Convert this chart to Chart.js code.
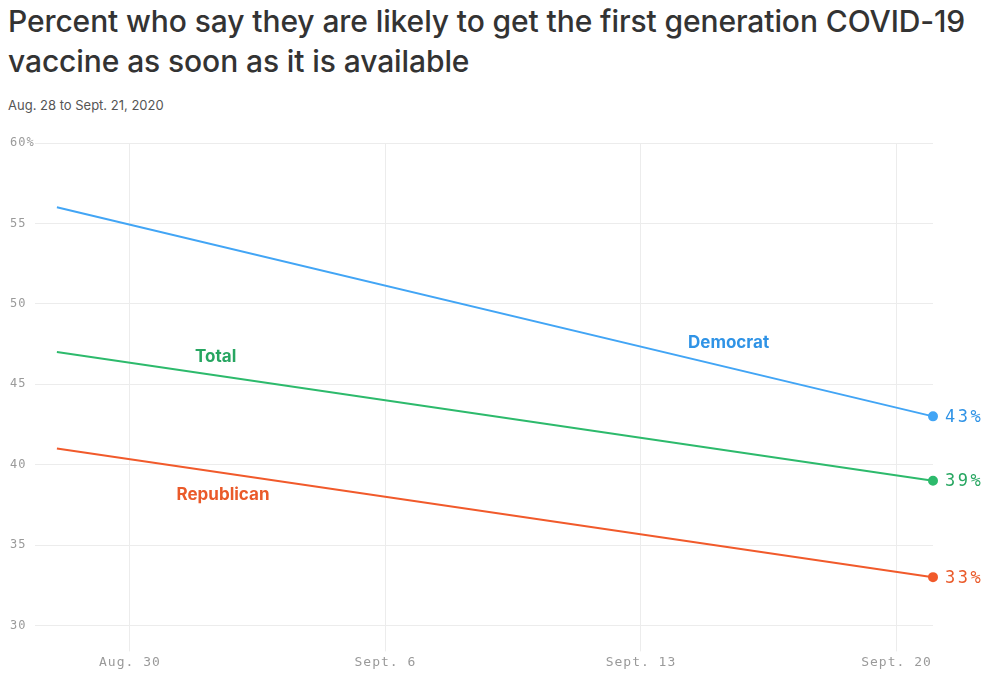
<!DOCTYPE html>
<html>
<head>
<meta charset="utf-8">
<script src="https://cdn.jsdelivr.net/npm/chart.js@4"></script>
<style>
  html, body { margin: 0; padding: 0; background: #fff; }
  body { width: 993px; height: 673px; position: relative; overflow: hidden; }
  #title {
    position: absolute; left: 8px; top: 1px; width: 985px;
    font-family: Inter, "Noto Sans", sans-serif; font-size: 30px; font-weight: 500;
    line-height: 40px; color: #333; letter-spacing: -0.1px;
  }
  #sub {
    position: absolute; left: 8px; top: 97px;
    font-family: Inter, "Noto Sans", sans-serif; font-size: 13px; color: #555;
  }
  #wrap { position: absolute; left: 0; top: 0; width: 993px; height: 673px; }
</style>
</head>
<body>
<div id="title">Percent who say they are likely to get the first generation COVID-19<br>vaccine as soon as it is available</div>
<div id="sub">Aug. 28 to Sept. 21, 2020</div>
<div id="wrap"><canvas id="c"></canvas></div>
<script>
// days since Aug. 28
var days = [0, 24];
var democrat = [56, 43];
var total = [47, 39];
var republican = [41, 33];

var xTickDays = [2, 9, 16, 23];
var xTickLabels = ['Aug. 30', 'Sept. 6', 'Sept. 13', 'Sept. 20'];
var yTicks = [30, 35, 40, 45, 50, 55, 60];

var seriesNames = ['Democrat', 'Total', 'Republican'];
var seriesColors = ['#42a5f5', '#2dba6c', '#f15a2b'];
var labelColors = ['#2f93e6', '#27a661', '#ea5a2a'];
// where the series names sit, in data units (day, percent)
var nameAnchors = [[18.4, 47.6], [4.35, 46.7], [4.55, 38.1]];

function pts(vals) {
    return vals.map(function (v, i) { return { x: days[i], y: v }; });
}

// spaced-out mono ticks like the original
var spacingPlugin = {
    id: 'tickSpacing',
    beforeDraw: function (chart) { chart.ctx.letterSpacing = '1px'; },
    beforeDatasetsDraw: function (chart) { chart.ctx.letterSpacing = '0px'; }
};

var labelPlugin = {
    id: 'seriesLabels',
    afterDatasetsDraw: function (chart) {
        var ctx = chart.ctx;
        var xs = chart.scales.x, ys = chart.scales.y;
        ctx.save();
        chart.data.datasets.forEach(function (ds, i) {
            var last = ds.data[ds.data.length - 1];
            ctx.fillStyle = labelColors[i];
            ctx.letterSpacing = '2.5px';
            ctx.font = '17px "DejaVu Sans Mono", monospace';
            ctx.textAlign = 'left';
            ctx.textBaseline = 'middle';
            ctx.fillText(last.y + '%', xs.getPixelForValue(last.x) + 12, ys.getPixelForValue(last.y) + 1);

            ctx.letterSpacing = '0px';
            ctx.font = '700 17px Inter, "Noto Sans", sans-serif';
            ctx.textAlign = 'center';
            ctx.fillText(seriesNames[i], xs.getPixelForValue(nameAnchors[i][0]), ys.getPixelForValue(nameAnchors[i][1]));
        });
        ctx.restore();
    }
};

function makeSet(i, vals) {
    return {
        label: seriesNames[i],
        data: pts(vals),
        borderColor: seriesColors[i],
        backgroundColor: seriesColors[i],
        borderWidth: 2,
        clip: false,
        pointRadius: function (c) { return c.dataIndex === vals.length - 1 ? 4 : 0; },
        pointHoverRadius: 4,
        tension: 0
    };
}

new Chart(document.getElementById('c'), {
    type: 'line',
    data: {
        datasets: [makeSet(0, democrat), makeSet(1, total), makeSet(2, republican)]
    },
    options: {
        responsive: true,
        maintainAspectRatio: false,
        animation: false,
        layout: { padding: { left: 10, right: 60, top: 143, bottom: 0 } },
        plugins: { legend: { display: false }, tooltip: { enabled: false } },
        scales: {
            x: {
                type: 'linear',
                min: -0.6,
                max: 24,
                afterBuildTicks: function (s) {
                    s.ticks = xTickDays.map(function (v) { return { value: v }; });
                },
                grid: { color: '#ececec', lineWidth: 1, tickLength: 26, drawTicks: true },
                border: { display: false },
                ticks: {
                    color: '#9a9a9a',
                    font: { family: '"DejaVu Sans Mono", monospace', size: 13 },
                    padding: 3,
                    maxRotation: 0,
                    callback: function (v) { return xTickLabels[xTickDays.indexOf(v)]; }
                }
            },
            y: {
                min: 30,
                max: 60,
                afterBuildTicks: function (s) {
                    s.ticks = yTicks.map(function (v) { return { value: v }; });
                },
                afterFit: function (s) { s.width = 25; },
                grid: { color: '#ececec', lineWidth: 1, drawTicks: false },
                border: { display: false },
                ticks: {
                    color: '#9a9a9a',
                    crossAlign: 'far',
                    padding: 4,
                    font: { family: '"DejaVu Sans Mono", monospace', size: 12 },
                    callback: function (v) { return v === 60 ? v + '%' : v; }
                }
            }
        }
    },
    plugins: [spacingPlugin, labelPlugin]
});
</script>
</body>
</html>
